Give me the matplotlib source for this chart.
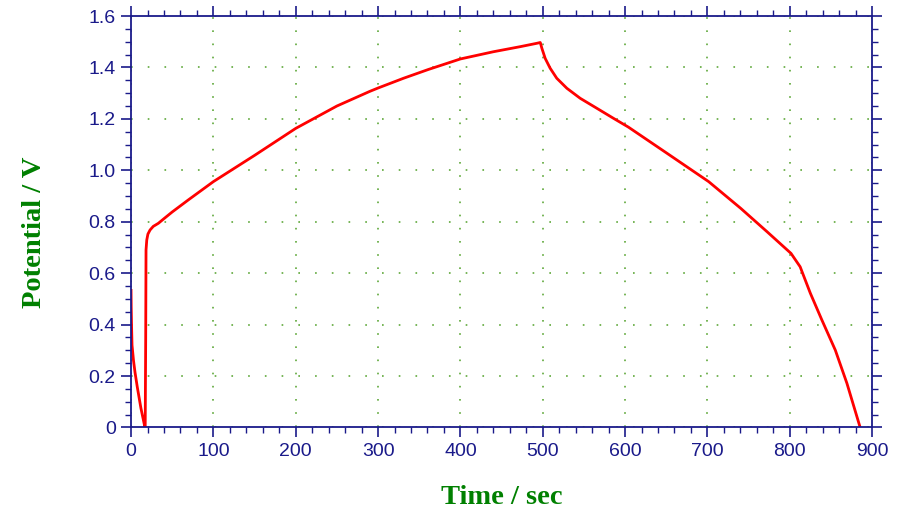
import matplotlib
matplotlib.use("Agg")
import matplotlib.pyplot as plt
from matplotlib.ticker import MultipleLocator

# charge / discharge curve
time_s = [0, 0.2, 0.6, 1.2, 3.0, 4.8, 7.6, 12.0, 16.9,
          17.2, 17.8, 18.2, 19.1, 20.5, 23.1, 27.0, 33.2, 40, 50, 69.6,
          100, 150, 200, 250, 290, 300, 331, 361, 400, 440, 473, 493, 497,
          499, 503, 509, 517, 529.3, 545.5, 565.8, 586, 604, 651, 701.5,
          740.5, 772.5, 801.5, 812.6, 825, 839, 855.3, 869.4, 885.5]
potential_v = [0.533, 0.468, 0.40, 0.32, 0.26, 0.215, 0.157, 0.075, 0.0,
               0.0, 0.35, 0.69, 0.729, 0.752, 0.768, 0.782, 0.794, 0.812, 0.838, 0.885,
               0.956, 1.058, 1.163, 1.25, 1.307, 1.320, 1.358, 1.392, 1.433, 1.461, 1.481, 1.494, 1.497,
               1.474, 1.435, 1.397, 1.358, 1.319, 1.280, 1.241, 1.202, 1.168, 1.066, 0.956,
               0.852, 0.761, 0.677, 0.625, 0.522, 0.418, 0.301, 0.172, 0.0]

x_ticks = [0, 100, 200, 300, 400, 500, 600, 700, 800, 900]
y_ticks = [0, 0.2, 0.4, 0.6, 0.8, 1.0, 1.2, 1.4, 1.6]
y_labels = ['0', '0.2', '0.4', '0.6', '0.8', '1.0', '1.2', '1.4', '1.6']

navy = '#1a1a8a'
green = '#008000'

fig = plt.figure(figsize=(9, 5.13), dpi=100)
ax = fig.add_axes([0.1456, 0.1667, 0.8234, 0.8021])

ax.plot(time_s, potential_v, color='#ff0000', lw=2)

ax.set_xlim(0, 900)
ax.set_ylim(0, 1.6)
ax.set_xticks(x_ticks)
ax.set_yticks(y_ticks)
ax.set_yticklabels(y_labels)
ax.xaxis.set_minor_locator(MultipleLocator(20))
ax.yaxis.set_minor_locator(MultipleLocator(0.05))

ax.tick_params(which='both', direction='out', colors=navy, top=True, right=True,
               labeltop=False, labelright=False)
ax.tick_params(which='major', length=7, width=1.2, labelsize=14, pad=4)
ax.tick_params(which='minor', length=4, width=1)
for lbl in ax.get_xticklabels() + ax.get_yticklabels():
    lbl.set_family(['Liberation Sans', 'DejaVu Sans'])
    lbl.set_color(navy)

for s in ax.spines.values():
    s.set_color(navy)
    s.set_linewidth(1.3)

# dotted grid: dots land on the minor tick spacing of the other axis
ax.xaxis.grid(True, color='#5fa83a', lw=1.2, linestyle=(0, (1, 6.9)))
ax.yaxis.grid(True, color='#5fa83a', lw=1.2, linestyle=(0, (1, 9.04)))
ax.set_axisbelow(True)

ax.set_xlabel('Time / sec', family=['Liberation Serif', 'DejaVu Serif'],
              fontweight='bold', fontsize=20.5, color=green, labelpad=18)
ax.set_ylabel('Potential / V', family=['Liberation Serif', 'DejaVu Serif'],
              fontweight='bold', fontsize=20.5, color=green)
ax.yaxis.set_label_coords(-0.114, 0.475)

fig.savefig('out.png', dpi=100)
